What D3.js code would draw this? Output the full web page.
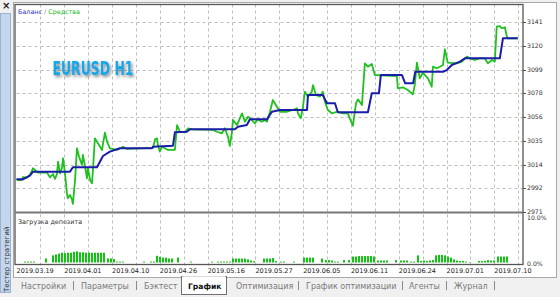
<!DOCTYPE html>
<html>
<head>
<meta charset="utf-8">
<style>
    body { margin: 0; background: #f0f0f0; }
    svg { display: block; font-family: 'DejaVu Sans', sans-serif; }
</style>
</head>
<body>
<svg width="560" height="297"></svg>

<script src="https://d3js.org/d3.v7.min.js"></script>
<script>
    // ---- data (x = deal number, y = account value) ----
    let balance = [
        [0, 3000.3], [2.7, 3000.3], [5.6, 3003.5], [6.9, 3007.1], [22.4, 3007.1], [23.6, 3011.0],
        [33.7, 3011.0], [36.2, 3021.1], [39.1, 3025.0], [43.3, 3028.0], [56.7, 3028.0], [57.1, 3029.4],
        [65.5, 3030.3], [66.3, 3042.3], [71.3, 3042.8], [72.6, 3045.0], [91.4, 3045.0], [92.7, 3047.3],
        [96.4, 3048.8], [97.7, 3053.9], [104.8, 3053.9], [106.9, 3060.7], [110.3, 3062.3], [121.6, 3062.3],
        [122.0, 3075.7], [128.2, 3075.7], [129.9, 3068.3], [133.3, 3068.3], [134.5, 3060.2], [147.1, 3060.2],
        [148.7, 3077.2], [151.7, 3077.2], [152.5, 3093.6], [161.3, 3093.6], [162.7, 3086.1], [166.0, 3086.1],
        [166.9, 3096.5], [178.5, 3096.5], [180.1, 3098.0], [182.2, 3102.5], [185.6, 3105.5], [187.7, 3108.5],
        [202.3, 3108.5], [203.6, 3126.4], [209.8, 3126.4]
    ]

    let equity = [
        [0, 3000.3], [0.6, 2999.6], [2.3, 2999.6], [2.7, 3002.3], [4.4, 3001.7], [5.6, 3004.1], [6.9, 3010.1],
        [7.7, 3008.6], [9.0, 3006.2], [12.8, 3006.2], [13.2, 3004.7], [14.0, 3002.0], [15.3, 3005.0],
        [16.1, 3000.5], [16.9, 3004.7], [17.4, 3016.0], [18.2, 3005.6], [19.0, 3010.1], [19.5, 3019.0],
        [20.3, 3005.6], [21.1, 2987.7], [21.5, 2983.2], [22.4, 2986.2], [23.2, 2982.4], [23.6, 2978.2],
        [24.5, 2999.6], [25.3, 3028.0], [26.2, 3020.5], [27.4, 3013.1], [27.8, 3022.0], [28.7, 3011.5],
        [29.5, 3001.2], [29.9, 3010.1], [30.8, 2999.6], [31.6, 2996.7], [32.0, 3008.6], [32.8, 3036.9],
        [34.1, 3032.5], [35.8, 3026.5], [37.0, 3042.0], [37.9, 3033.9], [39.1, 3028.0], [42.1, 3026.5],
        [44.6, 3029.4], [46.2, 3027.4], [57.1, 3028.3], [58.0, 3036.0], [58.8, 3036.9], [59.2, 3030.9],
        [60.0, 3025.0], [60.9, 3029.4], [62.1, 3028.0], [63.4, 3026.5], [66.3, 3026.5], [67.2, 3048.8],
        [68.4, 3042.8], [70.5, 3042.3], [71.8, 3045.9], [73.4, 3045.0], [82.2, 3044.4], [83.9, 3042.8],
        [86.0, 3041.4], [87.2, 3045.9], [88.5, 3038.4], [89.3, 3030.1], [90.2, 3042.8], [90.6, 3053.3],
        [92.3, 3048.8], [93.5, 3054.8], [94.4, 3059.3], [95.6, 3051.8], [96.9, 3056.3], [98.5, 3053.3],
        [99.8, 3050.4], [101.0, 3053.9], [102.7, 3051.8], [104.0, 3053.3], [104.8, 3051.8], [106.1, 3060.7],
        [107.3, 3071.2], [109.0, 3065.2], [110.3, 3060.7], [113.2, 3060.7], [115.7, 3062.3], [117.4, 3063.8],
        [117.8, 3059.3], [119.0, 3054.8], [119.9, 3065.2], [120.7, 3078.6], [122.0, 3074.2], [123.6, 3078.6],
        [124.1, 3084.6], [125.3, 3075.7], [127.0, 3074.2], [128.2, 3078.6], [129.1, 3069.7], [130.3, 3062.3],
        [132.0, 3059.3], [134.1, 3060.7], [136.6, 3059.3], [138.7, 3059.3], [139.5, 3054.8], [140.8, 3048.2],
        [142.1, 3068.3], [142.9, 3071.8], [144.6, 3066.7], [145.8, 3104.0], [147.1, 3101.0], [148.7, 3103.4],
        [150.0, 3093.6], [159.2, 3092.7], [159.6, 3081.7], [161.7, 3082.6], [163.8, 3080.2], [165.9, 3076.3],
        [166.7, 3084.6], [167.6, 3104.6], [168.8, 3090.6], [170.1, 3095.6], [172.2, 3090.6], [173.8, 3083.1],
        [174.3, 3101.0], [175.9, 3099.6], [177.2, 3101.0], [178.5, 3102.5], [179.3, 3116.6], [180.5, 3104.6],
        [184.3, 3104.0], [186.4, 3105.5], [188.5, 3110.0], [189.7, 3108.5], [191.8, 3107.0], [193.9, 3108.5],
        [196.0, 3108.5], [197.3, 3104.0], [199.0, 3107.0], [200.2, 3105.5], [201.0, 3136.8], [202.3, 3137.4],
        [203.1, 3135.4], [204.4, 3136.3], [205.2, 3128.5], [205.6, 3126.4], [209.8, 3126.4]
    ]

    // deposit load, % (deal number, load)
    let load = [
        [3.1, 0.2], [4.4, 0.2], [5.7, 0.2], [6.9, 0.2], [12.1, 0.9], [14.9, 1.6], [16.1, 1.8], [17.4, 2.0],
        [18.6, 2.2], [19.9, 2.1], [21.1, 2.2], [22.4, 2.2], [23.6, 2.4], [24.9, 2.5], [26.1, 2.3], [27.4, 2.3],
        [28.7, 2.2], [29.9, 2.2], [31.2, 2.2], [32.4, 2.2], [33.7, 2.2], [35.0, 2.2], [36.2, 2.2], [37.9, 0.9],
        [39.1, 0.9], [40.4, 0.8], [41.6, 0.2], [42.9, 0.2], [44.2, 0.2], [53.0, 0.2], [55.9, 0.2], [57.1, 0.2],
        [58.4, 1.5], [59.6, 1.3], [60.9, 1.1], [62.2, 1.1], [63.4, 0.9], [64.7, 0.9], [67.2, 1.1], [72.6, 0.2],
        [81.4, 0.2], [83.9, 0.2], [85.2, 0.2], [86.4, 0.2], [87.7, 0.2], [89.0, 0.2], [90.2, 0.9], [91.5, 0.9],
        [92.7, 0.9], [94.0, 0.9], [95.2, 0.9], [96.5, 0.7], [97.7, 0.45], [99.0, 0.3], [103.2, 0.9], [104.4, 0.9],
        [105.7, 0.9], [106.9, 1.0], [108.2, 0.3], [110.3, 0.2], [111.6, 0.2], [115.7, 0.2], [119.9, 1.1],
        [121.2, 1.1], [122.4, 1.1], [123.7, 1.1], [127.5, 0.9], [129.1, 0.55], [130.4, 0.55], [131.6, 0.45],
        [132.9, 0.2], [134.2, 0.2], [136.7, 0.55], [138.8, 0.55], [140.4, 1.35], [141.7, 1.35], [142.9, 1.45],
        [144.2, 1.45], [145.5, 1.45], [146.7, 1.45], [148.0, 1.45], [149.2, 1.35], [150.9, 0.45], [152.2, 0.45],
        [153.4, 0.45], [154.7, 0.45], [158.4, 0.55], [160.5, 0.45], [161.8, 0.45], [163.0, 0.45], [164.7, 0.2],
        [166.0, 0.2], [167.6, 1.6], [168.9, 0.35], [170.2, 0.45], [171.4, 0.35], [172.7, 0.45], [174.0, 0.55],
        [175.2, 1.6], [176.5, 1.7], [177.8, 1.7], [179.0, 1.6], [180.3, 1.35], [181.6, 1.1], [182.8, 0.7],
        [184.1, 0.45], [185.4, 0.35], [186.6, 0.35], [187.9, 0.2], [189.2, 0.1], [193.2, 0.35], [194.5, 0.35],
        [195.8, 0.35], [197.0, 0.55], [198.3, 0.45], [199.6, 0.45], [201.1, 1.35], [202.4, 1.35], [203.6, 1.35],
        [204.9, 1.35]
    ]

    let yTickLabels = ['2971', '2992', '3014', '3035', '3056', '3078', '3099', '3120', '3141']
    let dateLabels = ['2019.03.19', '2019.04.01', '2019.04.10', '2019.04.26', '2019.05.16', '2019.05.27',
        '2019.06.05', '2019.06.11', '2019.06.24', '2019.07.01', '2019.07.10']
    let loadLabels = ['0.0%', '10.0%']
    let tabs = ['Настройки', 'Параметры', 'Бэктест', 'График', 'Оптимизация', 'График оптимизации', 'Агенты', 'Журнал']

    // ---- layout ----
    let svg = d3.select("svg")
    let left = 16.5, right = 523
    let mainTop = 4.5, mainBottom = 212
    let loadTop = 218, loadBottom = 262.5

    let x = d3.scaleLinear().domain([0, 212]).range([left, right])
    let y = d3.scaleLinear().domain([2971, 3141]).range([mainBottom, 22])
    let yLoad = d3.scaleLinear().domain([0, 10]).range([loadBottom, loadTop])

    // left "strategy tester" strip
    svg.append("rect").attr("x", 0).attr("y", 0).attr("width", 560).attr("height", 297).attr("fill", "#f0f0f0")
    svg.append("rect").attr("x", 0.5).attr("y", 13.5).attr("width", 10).attr("height", 279)
        .attr("fill", "#c3d6ee").attr("stroke", "#9cb2d0")
    svg.append("text").attr("x", 2).attr("y", 9).text("×")
        .style("font-size", "10px").style("font-weight", "bold").attr("fill", "#222")
    svg.append("text").attr("transform", "translate(8.5,292) rotate(-90)")
        .text("Тестер стратегий").style("font-size", "7px").attr("fill", "#333")

    // white chart panel
    svg.append("rect").attr("x", 13.5).attr("y", 2.5).attr("width", 543).attr("height", 275)
        .attr("fill", "white").attr("stroke", "#a8a8a8")

    // grid
    let grid = svg.append("g").attr("stroke", "#bdbdbd").attr("stroke-dasharray", "3,3")
    let yVals = yTickLabels.map((d, i) => 2971 + i * (3141 - 2971) / (yTickLabels.length - 1))
    grid.selectAll(".hg").data(yVals.slice(1)).join("line")
        .attr("x1", left).attr("x2", right)
        .attr("y1", d => Math.round(y(d)) + 0.5).attr("y2", d => Math.round(y(d)) + 0.5)
    grid.selectAll(".vg").data(d3.range(10, 220, 10)).join("line")
        .attr("x1", d => Math.round(x(d)) + 0.5).attr("x2", d => Math.round(x(d)) + 0.5)
        .attr("y1", mainTop).attr("y2", 266)

    // panel frames
    svg.append("rect").attr("x", 15).attr("y", mainTop).attr("width", right - 15).attr("height", 260)
        .attr("fill", "none").attr("stroke", "#555").attr("stroke-width", 1.3)
    svg.append("line").attr("x1", 15).attr("x2", right).attr("y1", 212.5).attr("y2", 212.5)
        .attr("stroke", "#777").attr("stroke-width", 2)

    // equity + balance
    let line = d3.line().x(d => x(d[0])).y(d => y(d[1]))
    svg.append("path").attr("d", line(equity)).attr("fill", "none")
        .attr("stroke", "#1fc01f").attr("stroke-width", 1.8).attr("stroke-linejoin", "round")
    svg.append("path").attr("d", line(balance)).attr("fill", "none")
        .attr("stroke", "#1c1caa").attr("stroke-width", 2).attr("stroke-linejoin", "round")

    // deposit load bars
    svg.selectAll(".bar").data(load).join("rect")
        .attr("x", d => Math.round(x(d[0])))
        .attr("width", 2)
        .attr("y", d => yLoad(d[1]))
        .attr("height", d => yLoad(0) - yLoad(d[1]))
        .attr("fill", "#12c412")

    // y axis labels + ticks
    svg.selectAll(".yl").data(yVals).join("text")
        .attr("x", 527).attr("y", d => y(d)).attr("dy", "0.35em")
        .text((d, i) => yTickLabels[i]).style("font-size", "6.2px").attr("fill", "#333")
    svg.selectAll(".yt").data(yVals).join("line")
        .attr("x1", right).attr("x2", right + 3)
        .attr("y1", d => Math.round(y(d)) + 0.5).attr("y2", d => Math.round(y(d)) + 0.5)
        .attr("stroke", "#555")

    svg.selectAll(".ll").data(loadLabels).join("text")
        .attr("x", 527).attr("y", (d, i) => yLoad(i * 10) + (i ? 0 : 1)).attr("dy", "0.35em")
        .text(d => d).style("font-size", "6.2px").attr("fill", "#333")

    // date labels
    svg.selectAll(".dl").data(dateLabels).join("text")
        .attr("x", (d, i) => x(i * 20)).attr("y", 273)
        .text(d => d).style("font-size", "6.5px").attr("fill", "#222")

    // legend
    let lg = svg.append("text").attr("x", 18).attr("y", 14).style("font-size", "6.4px")
    lg.append("tspan").text("Баланс").attr("fill", "#3535c8")
    lg.append("tspan").text(" / ").attr("fill", "#888")
    lg.append("tspan").text("Средства").attr("fill", "#22b822")

    svg.append("text").attr("x", 18).attr("y", 223.5).text("Загрузка депозита")
        .style("font-size", "6.4px").attr("fill", "#333")

    // symbol caption
    let defs = svg.append("defs")
    let f = defs.append("filter").attr("id", "sh").attr("x", "-20%").attr("y", "-30%")
        .attr("width", "140%").attr("height", "180%")
    f.append("feDropShadow").attr("dx", 1.5).attr("dy", 2).attr("stdDeviation", 1.8)
        .attr("flood-color", "#555").attr("flood-opacity", 0.7)
    svg.append("text").attr("x", 52.5).attr("y", 75).text("EURUSD H1")
        .attr("textLength", 81).attr("lengthAdjust", "spacingAndGlyphs")
        .style("font-size", "20px").style("font-weight", "bold")
        .attr("fill", "#12a6ea").attr("filter", "url(#sh)")

    // bottom tabs
    let tabX = [21, 81, 144, 188, 236, 306, 409, 454]
    let sepX = [73, 136, 298, 402, 446, 494]
    svg.append("rect").attr("x", 181.5).attr("y", 276.5).attr("width", 45).attr("height", 18)
        .attr("fill", "white").attr("stroke", "#707070")
    svg.append("line").attr("x1", 182.5).attr("x2", 225.5).attr("y1", 277).attr("y2", 277)
        .attr("stroke", "white").attr("stroke-width", 1.5)
    svg.selectAll(".tab").data(tabs).join("text")
        .attr("x", (d, i) => tabX[i]).attr("y", 289)
        .text(d => d)
        .style("font-size", d => d == "График" ? "7.6px" : "8px")
        .style("font-weight", d => d == "График" ? "bold" : "normal")
        .attr("fill", d => d == "График" ? "#111" : "#7a7a7a")
    svg.selectAll(".sep").data(sepX).join("line")
        .attr("x1", d => d + 0.5).attr("x2", d => d + 0.5).attr("y1", 281).attr("y2", 290)
        .attr("stroke", "#8a8a8a")
</script>
</body>
</html>
